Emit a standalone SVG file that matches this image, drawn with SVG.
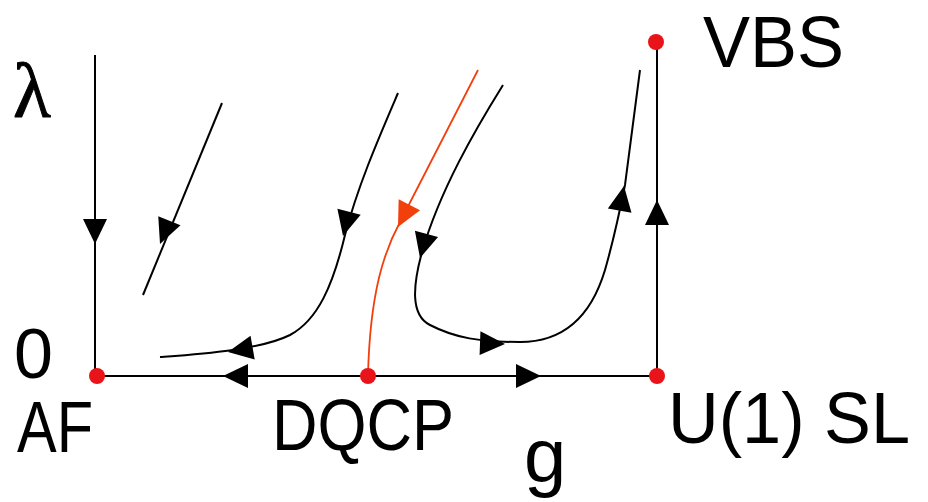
<svg xmlns="http://www.w3.org/2000/svg" width="928" height="502" viewBox="0 0 928 502">
<style>
.ln{fill:none;stroke:#000;stroke-width:2}
.rd{fill:none;stroke:#f2400c;stroke-width:1.8}
.ah{fill:#000}
.ahr{fill:#f2400c}
.dot{fill:#e8141a}
.t{font-family:"Liberation Sans",Arial,sans-serif;font-size:72px;fill:#000}
.s{font-family:"Liberation Serif","Times New Roman",serif;font-size:78px;fill:#000;stroke:#000;stroke-width:1}
</style>
<defs>
<path id="ah" d="M0,0 L-25,-12 L-25,12 Z"/>
</defs>
<rect width="928" height="502" fill="#fff"/>
<g id="connectors">
<path class="ln" d="M95,55 L95,376"/>
<path class="ln" d="M97,376 L657,376"/>
<path class="ln" d="M657,42 L657,376"/>
<path class="ln" d="M222,103 L143,295"/>
<path class="ln" d="M398,93 C380,135 358,185 345,235 C333,285 318,320 290,335 C260,350 200,354 160,357"/>
<path class="rd" d="M478,70 L400,222 C385,250 370,290 368,376"/>
<path class="ln" d="M503,85 C475,130 440,190 422,252 C413,285 410,315 430,325 C455,338 480,342 520,342 C560,342 590,320 605,270 C615,235 620,210 625,185 L640,70"/>
<use href="#ah" class="ah" transform="translate(95,244) rotate(90)"/>
<use href="#ah" class="ah" transform="translate(160,244) rotate(112)"/>
<use href="#ah" class="ah" transform="translate(343,236) rotate(104)"/>
<use href="#ah" class="ahr" transform="translate(398,227) rotate(117)"/>
<use href="#ah" class="ah" transform="translate(420,258) rotate(105)"/>
<use href="#ah" class="ah" transform="translate(228,352) rotate(170)"/>
<use href="#ah" class="ah" transform="translate(505,344) rotate(2)"/>
<use href="#ah" class="ah" transform="translate(624,186) rotate(-80)"/>
<use href="#ah" class="ah" transform="translate(657,200) rotate(-90)"/>
<use href="#ah" class="ah" transform="translate(223,376) rotate(180)"/>
<use href="#ah" class="ah" transform="translate(541,376)"/>
</g>
<g id="AF"><circle class="dot" cx="97" cy="376" r="8"/><text class="t" x="17" y="452" textLength="76" lengthAdjust="spacingAndGlyphs">AF</text></g>
<g id="DQCP"><circle class="dot" cx="368" cy="376" r="8"/><text class="t" x="272" y="450" textLength="182" lengthAdjust="spacingAndGlyphs">DQCP</text></g>
<g id="U1SL"><circle class="dot" cx="657" cy="376" r="8"/><text class="t" x="668" y="443" textLength="242" lengthAdjust="spacingAndGlyphs">U(1) SL</text></g>
<g id="VBS"><circle class="dot" cx="656" cy="42" r="8"/><text class="t" x="703" y="67" textLength="141" lengthAdjust="spacingAndGlyphs">VBS</text></g>
<g id="labels">
<text class="s" x="13" y="117">λ</text>
<text class="t" x="14" y="378" style="font-size:70px">0</text>
<text class="t" x="524" y="482" style="font-size:76px">g</text>
</g>
</svg>
